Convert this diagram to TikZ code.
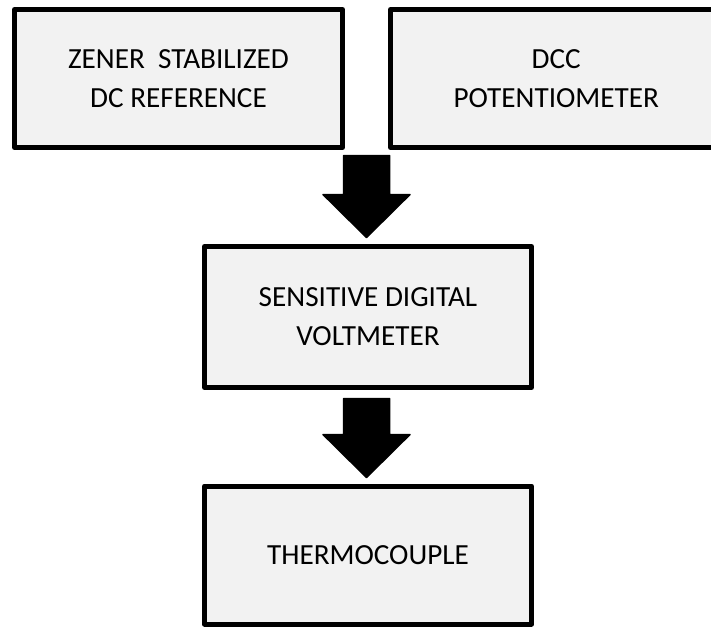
\documentclass[tikz,border=0pt]{standalone}
\usepackage{fontspec}
\setmainfont{Carlito}
\usetikzlibrary{calc}

\definecolor{boxfill}{HTML}{F2F2F2}

\tikzset{
  block/.style={draw=black, line width=5pt, fill=boxfill, line join=round,
    inner sep=0pt, outer sep=0pt, align=center,
    font=\fontsize{29.2}{39}\selectfont},
  fatarrow/.style={fill=black, draw=black, line width=1.5pt, line join=round}
}

% block arrow from the shaft top #1 down to the tip #2
\newcommand{\blockarrow}[2]{%
  \path[fatarrow] ($(#1)+(-23,0)$) -- ($(#1)+(23,0)$) --
    ($(#2)+(23,-43)$) -- ($(#2)+(43.5,-43)$) -- (#2) --
    ($(#2)+(-43.5,-43)$) -- ($(#2)+(-23,-43)$) -- cycle;}

\begin{document}
\begin{tikzpicture}[x=1pt, y=-1pt]
  \useasboundingbox (0,0) rectangle (711,626);
  \clip (0,0) rectangle (711,626);

  \node[block, minimum width=328pt, minimum height=138pt] (zener) at (178.5,78.5)
    {ZENER\ \ STABILIZED\\DC REFERENCE};
  \node[block, minimum width=331.5pt, minimum height=138pt] (dcc) at (556.25,78.5)
    {DCC\\POTENTIOMETER};
  \node[block, minimum width=327pt, minimum height=141pt] (dvm) at (368,317)
    {SENSITIVE DIGITAL\\VOLTMETER};
  \node[block, minimum width=327pt, minimum height=138pt] (tc) at (368,555)
    {THERMOCOUPLE};

  % arrow from the two references down to the voltmeter
  \coordinate (a1top) at ($(zener.south east)!0.5!(dcc.south west)+(0,8)$);
  \coordinate (a1tip) at ($(dvm.north)+(-1.5,-9)$);
  \blockarrow{a1top}{a1tip}

  % arrow from the voltmeter down to the thermocouple
  \coordinate (a2top) at ($(dvm.south)+(-1.5,11)$);
  \coordinate (a2tip) at ($(tc.north)+(-1.5,-8.5)$);
  \blockarrow{a2top}{a2tip}
\end{tikzpicture}
\end{document}
